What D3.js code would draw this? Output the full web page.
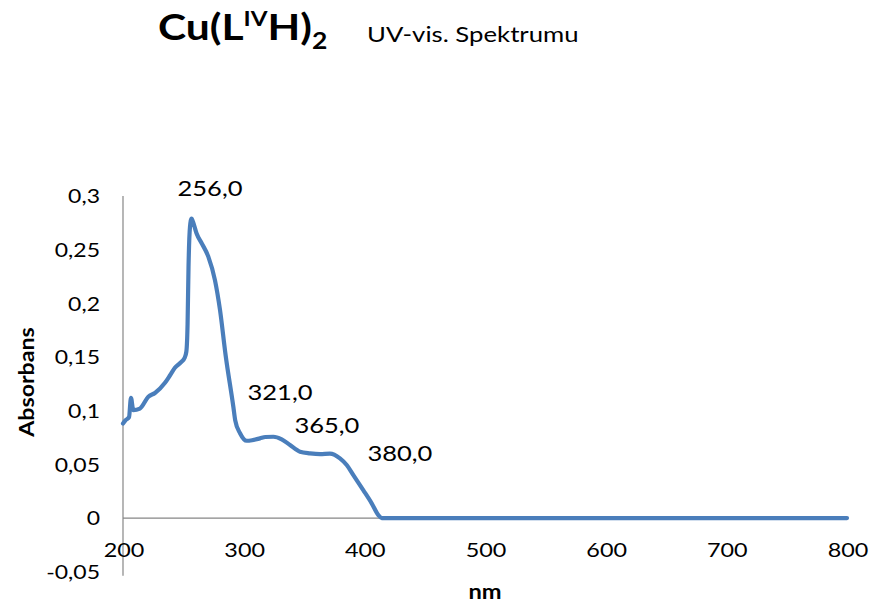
<!DOCTYPE html>
<html>
<head>
<meta charset="utf-8">
<script src="https://cdn.jsdelivr.net/npm/d3@7"></script>
<style>
  html, body { margin: 0; padding: 0; background: #fff; }
  svg { display: block; }
  text { font-family: Lato, "Open Sans", sans-serif; fill: #000; }
</style>
</head>
<body>
<svg id="chart" width="869" height="608"></svg>
<script>
// ---- data ----
const wavelength = [200, 202, 205, 206.6, 208.5, 214, 221, 226.5, 234.8, 239, 243, 248.6, 251, 252.5, 253.5, 254.3, 255.5, 256.8, 258, 261, 265.2, 270.7, 276.2, 280.4, 285, 291.4, 293, 297, 302.5, 307, 313.5, 318, 324.6, 331.5, 338.4, 346.7, 355, 363.3, 371.5, 379.8, 385.4, 390.9, 399.1, 406.1, 411.6, 414.4, 500, 600, 700, 800];
const absorbance = [0.088, 0.091, 0.094, 0.112, 0.1006, 0.102, 0.113, 0.1165, 0.126, 0.133, 0.140, 0.1456, 0.149, 0.155, 0.18, 0.234, 0.271, 0.279, 0.276, 0.265, 0.256, 0.2435, 0.2217, 0.1938, 0.152, 0.104, 0.091, 0.079, 0.072, 0.0725, 0.0742, 0.0755, 0.0757, 0.0733, 0.068, 0.0618, 0.0603, 0.0596, 0.0600, 0.0556, 0.0494, 0.040, 0.026, 0.0137, 0.0028, 0.0, 0.0, 0.0, 0.0, 0.0];

const xTicks = [200, 300, 400, 500, 600, 700, 800];
const yTicks = [-0.05, 0, 0.05, 0.1, 0.15, 0.2, 0.25, 0.3];

const peakLabels = ["256,0", "321,0", "365,0", "380,0"];
const peakLabelX = [272.1, 330.1, 369.0, 429.5];
const peakLabelY = [0.3084, 0.1184, 0.0876, 0.0615];

const titleMain = "Cu(L", titleSup = "IV", titleMid = "H)", titleSub = "2";
const subtitle = "UV-vis. Spektrumu";
const yTitle = "Absorbans";
const xTitle = "nm";

// ---- chart ----
const svg = d3.select("#chart");
const x = d3.scaleLinear().domain([200, 800]).range([123, 847]);
const y = d3.scaleLinear().domain([-0.05, 0.3]).range([571.7, 196]);
const fmt = v => d3.format("")(v).replace(".", ",").replace("−", "-");

const axisColor = "#868686";

// x axis line at y=0
svg.append("line")
  .attr("x1", x(200)).attr("x2", x(800))
  .attr("y1", y(0)).attr("y2", y(0))
  .attr("stroke", axisColor).attr("stroke-width", 1.2);

// y axis line
svg.append("line")
  .attr("x1", x(200)).attr("x2", x(200))
  .attr("y1", y(0.3)).attr("y2", y(-0.05) + 4)
  .attr("stroke", axisColor).attr("stroke-width", 1.2);

// y tick labels
svg.append("g").selectAll("text").data(yTicks).join("text")
  .attr("transform", d => `translate(100,${y(d)}) scale(1.15,1)`)
  .attr("text-anchor", "end").attr("dominant-baseline", "central")
  .style("font-size", "20px")
  .text(d => fmt(d));

// x tick labels
svg.append("g").selectAll("text").data(xTicks).join("text")
  .attr("transform", d => `translate(${x(d) + 1},550) scale(1.17,1)`)
  .attr("text-anchor", "middle").attr("dominant-baseline", "central")
  .style("font-size", "20px")
  .text(d => d);

// line
const pts = wavelength.map((w, i) => [w, absorbance[i]]);
svg.append("path")
  .datum(pts)
  .attr("fill", "none")
  .attr("stroke", "#4A7EBB")
  .attr("stroke-width", 4.2)
  .attr("stroke-linejoin", "round")
  .attr("stroke-linecap", "round")
  .attr("d", d3.line().x(d => x(d[0])).y(d => y(d[1])).curve(d3.curveMonotoneX));

// data labels
svg.append("g").selectAll("text").data(peakLabels).join("text")
  .attr("transform", (d, i) => `translate(${x(peakLabelX[i])},${y(peakLabelY[i])}) scale(1.16,1)`)
  .attr("text-anchor", "middle").attr("dominant-baseline", "central")
  .style("font-size", "22px")
  .text(d => d);

// axis titles
svg.append("text")
  .attr("transform", "translate(27,382) rotate(-90) scale(1.16,1)")
  .attr("text-anchor", "middle").attr("dominant-baseline", "central")
  .style("font-size", "20px").style("font-weight", "bold")
  .text(yTitle);

svg.append("text")
  .attr("transform", "translate(485,591) scale(1.18,1)")
  .attr("text-anchor", "middle").attr("dominant-baseline", "central")
  .style("font-size", "20px").style("font-weight", "bold")
  .text(xTitle);

// title
const t = svg.append("text").attr("transform", "translate(158,40) scale(1.15,1)")
  .style("font-weight", "bold").style("font-size", "37px");
t.append("tspan").text(titleMain);
t.append("tspan").attr("dy", -14).style("font-size", "21px").text(titleSup);
t.append("tspan").attr("dy", 14).text(titleMid);
t.append("tspan").attr("dy", 9).style("font-size", "23px").text(titleSub);

svg.append("text").attr("transform", "translate(367,42) scale(1.17,1)")
  .style("font-size", "22px")
  .text(subtitle);
</script>
</body>
</html>
